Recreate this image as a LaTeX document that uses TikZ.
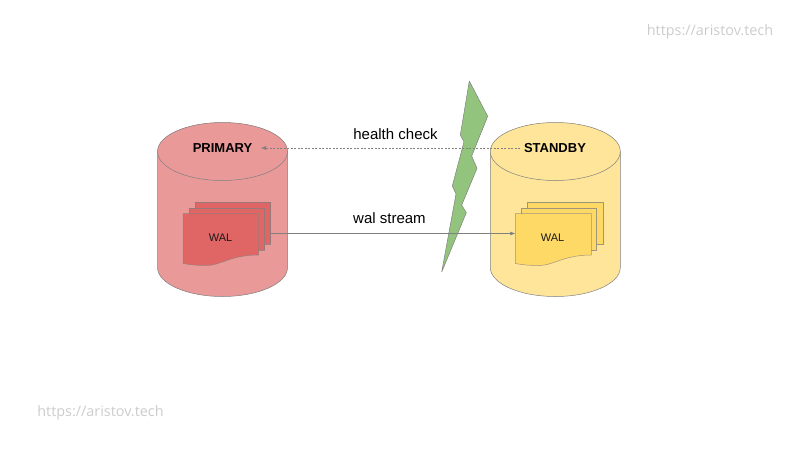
\documentclass[tikz,border=0pt]{standalone}
\usepackage{fontspec}
\setmainfont{Liberation Sans}
\newfontfamily\wmfont{Open Sans}
\usetikzlibrary{arrows.meta}
\definecolor{redbody}{HTML}{EA9999}
\definecolor{reddoc}{HTML}{E06666}
\definecolor{yelbody}{HTML}{FFE599}
\definecolor{yeldoc}{HTML}{FFD966}
\definecolor{grn}{HTML}{93C47D}
\definecolor{edgegray}{HTML}{808080}
\definecolor{wm}{HTML}{CCCCCC}
\tikzset{
  shp/.style={draw=edgegray,line width=0.5pt,line join=round},
  docshp/.style={draw=edgegray,draw opacity=0.75,line width=0.5pt,line join=round},
  lbl/.style={inner sep=0pt,font=\fontsize{11}{13}\selectfont,text=black!90},
  dblbl/.style={inner sep=0pt,font=\fontsize{13}{15}\selectfont\bfseries,text=black},
  conn/.style={draw=edgegray,line width=0.6pt,-{Latex[length=5pt,width=4pt]}},
  watermark/.style={inner sep=0pt,font=\wmfont\fontsize{14.4}{16}\selectfont,text=wm},
  caption text/.style={inner sep=0pt,font=\fontsize{15}{17}\selectfont,text=black}
}
\newcommand{\cyl}[3]{%
  \fill[#3] (#1,151.5) arc[x radius=65,y radius=29,start angle=180,end angle=360] -- (#1+130,267.5) arc[x radius=65,y radius=29,start angle=0,end angle=180] -- cycle;
  \draw[shp] (#1,151.5) -- (#1,267.5) arc[x radius=65,y radius=29,start angle=180,end angle=0] -- (#1+130,151.5);
  \draw[shp,fill=#3] (#1+65,151.5) ellipse[x radius=65,y radius=29];
}
\newcommand{\doc}[4]{%
  \draw[docshp,fill=#4] (#1,#2) -- (#1+#3,#2) -- (#1+#3,#2+41.5)
    .. controls (#1+#3-28,#2+41.5) and (#1+#3-38,#2+52) .. (#1+24,#2+52)
    .. controls (#1+12,#2+52) and (#1+6,#2+51) .. (#1,#2+50) -- cycle;
}
\begin{document}
\begin{tikzpicture}[x=1pt,y=-1pt]
\useasboundingbox (0,0) rectangle (800,450);
% lightning
\draw[shp,fill=grn] (469.3,81) -- (487.7,116.3) -- (471.7,156) -- (477,168.3) -- (461.7,205) -- (466.3,212.7) -- (441.7,272) -- (456,194) -- (452.3,186) -- (464,141.7) -- (460.3,135) -- cycle;
% primary
\cyl{157.5}{}{redbody}
\draw[docshp,fill=reddoc] (195,202.3) rectangle (270.7,244);
\draw[docshp,fill=reddoc] (189,208) rectangle (264.7,250);
\doc{183}{213.5}{75.5}{reddoc}
% standby
\cyl{490.3}{}{yelbody}
\draw[docshp,fill=yeldoc] (527.3,202.3) rectangle (603.7,244.7);
\draw[docshp,fill=yeldoc] (521.7,208.3) rectangle (596.7,250);
\doc{515.3}{213.5}{76}{yeldoc}
% labels
\node[dblbl] (primary) at (222.5,148.3) {PRIMARY};
\node[dblbl] (standby) at (555,148.3) {STANDBY};
\node[lbl] (walp) at (220.5,237.8) {WAL};
\node[lbl] (wals) at (552.5,237.8) {WAL};
\node[caption text] (hc) at (395.5,133.8) {health check};
\node[caption text] (ws) at (389.5,217.8) {wal stream};
\node[watermark] (w1) at (710,31.8) {https://aristov.tech};
\node[watermark] (w2) at (100.5,412.8) {https://aristov.tech};
% connectors
\coordinate (hcs) at (520,148);
\coordinate (hce) at (261,148);
\coordinate (wss) at (270.7,233.5);
\coordinate (wse) at (515.3,233.5);
\draw[conn,dash pattern=on 2pt off 1.5pt,line width=0.45pt] (hcs) -- (hce);
\draw[conn] (wss) -- (wse);
\end{tikzpicture}
\end{document}
